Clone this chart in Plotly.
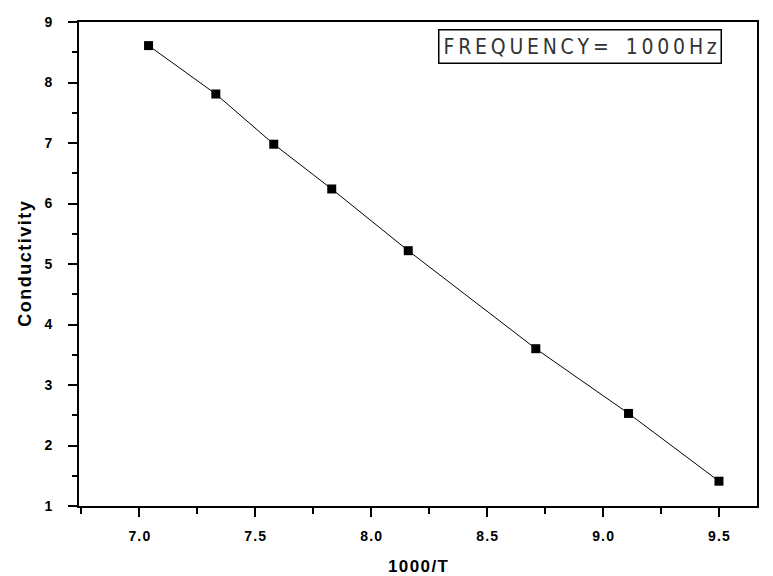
import plotly.graph_objects as go

# Inverse temperature (1000/T) and measured conductivity at 1000 Hz
inv_temp = [7.04, 7.33, 7.58, 7.83, 8.16, 8.71, 9.11, 9.50]
conductivity = [8.61, 7.81, 6.98, 6.24, 5.22, 3.60, 2.53, 1.41]

x_ticks = [7.0, 7.5, 8.0, 8.5, 9.0, 9.5]
y_ticks = [1, 2, 3, 4, 5, 6, 7, 8, 9]

label_text = "FREQUENCY= 1000Hz"

BOLD = "Liberation Sans, Arial, sans-serif"

def spread(s, sep="\u200a"):
    """Insert a narrow space between characters for a widely tracked look."""
    return sep.join(s)

fig = go.Figure()
fig.add_trace(go.Scatter(
    x=inv_temp, y=conductivity,
    mode="lines+markers",
    line=dict(color="black", width=1),
    marker=dict(symbol="square", size=9, color="black"),
    showlegend=False,
))

tick_font = dict(family=BOLD, size=14, color="black", weight="bold")

fig.update_xaxes(
    range=[6.74, 9.664],
    tickvals=x_ticks,
    ticktext=[spread(f"{v:.1f}") for v in x_ticks],
    ticks="outside", ticklen=9, tickwidth=1.5, tickcolor="black",
    minor=dict(dtick=0.25, tick0=7.0, ticks="outside", ticklen=6, tickwidth=1.5, tickcolor="black"),
    showline=True, linecolor="black", linewidth=2, mirror=True,
    showgrid=False, zeroline=False,
    tickfont=tick_font,
    ticklabelstandoff=7,
    automargin=False,
    title=dict(text=spread("1000/T"), font=dict(family=BOLD, size=17, color="black", weight="bold"),
               standoff=18),
)
fig.update_yaxes(
    range=[1, 9],
    tickvals=y_ticks,
    ticks="outside", ticklen=9, tickwidth=1.5, tickcolor="black",
    minor=dict(dtick=0.5, tick0=1, ticks="outside", ticklen=5, tickwidth=1.5, tickcolor="black"),
    showline=True, linecolor="black", linewidth=2, mirror=True,
    showgrid=False, zeroline=False,
    tickfont=tick_font,
    ticklabelstandoff=13,
    automargin=False,
    title=dict(text=spread("Conductivity"), font=dict(family=BOLD, size=18, color="black", weight="bold"),
               standoff=8),
)

fig.add_annotation(
    xref="paper", yref="paper", x=0.948, y=0.985, xanchor="right", yanchor="top",
    text="\u2009".join(label_text.replace(" ", "\u2002")),
    showarrow=False,
    font=dict(family="DejaVu Sans Condensed, Liberation Sans Narrow, sans-serif", size=21, color="#333333"),
    bordercolor="black", borderwidth=1.5, borderpad=4, bgcolor="white",
)

fig.update_layout(
    width=773, height=576,
    margin=dict(l=79, r=16, t=22, b=70),
    plot_bgcolor="white", paper_bgcolor="white",
)

fig.write_html("out.html")
